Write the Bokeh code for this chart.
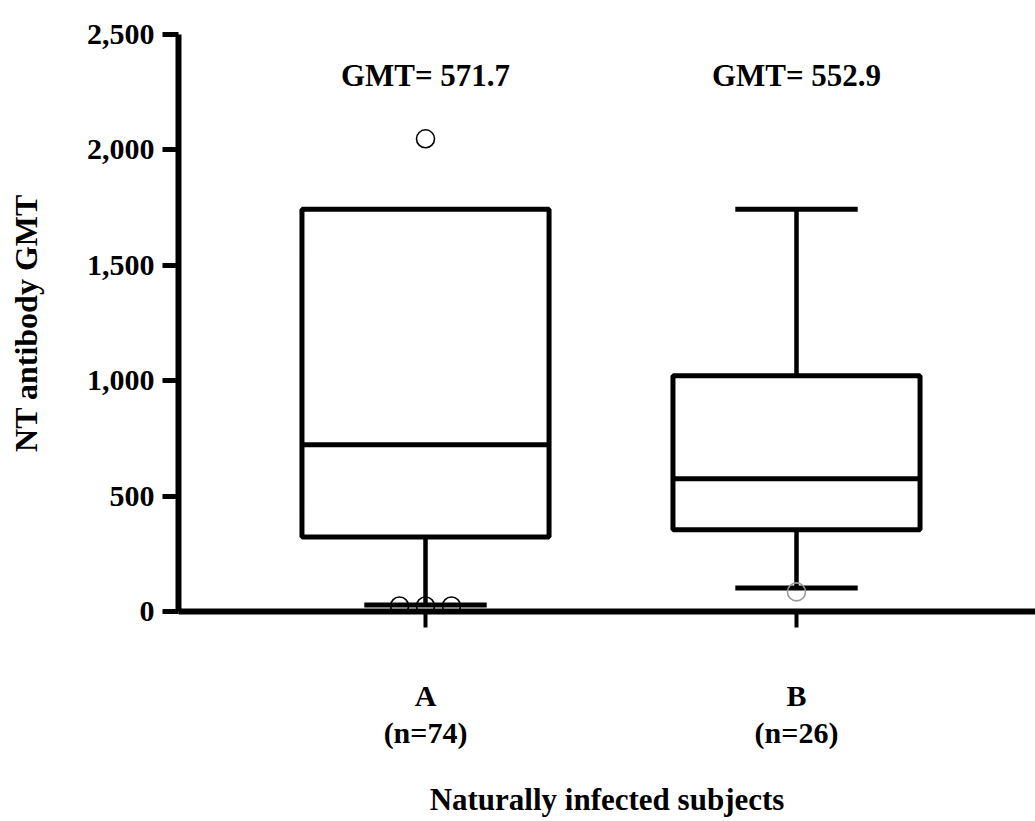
from bokeh.plotting import figure
from bokeh.models import Range1d, FixedTicker, NumeralTickFormatter, ColumnDataSource
from bokeh.core.properties import value
from bokeh.embed import file_html
from bokeh.resources import INLINE

# ---- data ----
groups = ["A", "B"]
group_pos = [1, 2]
n_subjects = [74, 26]
gmt = [571.7, 552.9]
q1 = [323, 354]
median = [723, 575]
q3 = [1743, 1021]
whisker_low = [28, 102]
whisker_high = [1743, 1743]
outlier_group = [1, 1, 1, 1, 2]
outlier_value = [2048, 24, 24, 24, 85]
outlier_jitter = [0.0, -0.07, 0.0, 0.07, 0.0]
outlier_color = ["black", "black", "black", "black", "#9a9a9a"]
y_ticks = [0, 500, 1000, 1500, 2000, 2500]

FONT = "Liberation Serif"
box_half = 0.333
cap_half = 0.165

p = figure(width=1035, height=821, x_range=Range1d(0.3342, 2.6442), y_range=Range1d(0, 2500),
           output_backend="svg", toolbar_location=None,
           min_border_left=178, min_border_right=0, min_border_top=34, min_border_bottom=210)
p.outline_line_color = None
p.xgrid.visible = False
p.ygrid.visible = False
p.background_fill_color = "white"
p.border_fill_color = "white"

# y axis
ya = p.yaxis[0]
ya.ticker = FixedTicker(ticks=y_ticks)
ya.formatter = NumeralTickFormatter(format="0,0")
ya.axis_line_width = 6
ya.axis_line_color = "black"
ya.major_tick_out = 16
ya.major_tick_in = 0
ya.major_tick_line_width = 5
ya.minor_tick_line_color = None
ya.major_label_text_font = FONT
ya.major_label_text_font_style = "bold"
ya.major_label_text_font_size = "30px"
ya.major_label_text_color = "black"
ya.major_label_standoff = 8
ya.axis_label = "NT antibody GMT"
ya.axis_label_text_font = FONT
ya.axis_label_text_font_style = "bold"
ya.axis_label_text_font_size = "32px"
ya.axis_label_text_color = "black"
ya.axis_label_standoff = 40

# x axis
xa = p.xaxis[0]
xa.ticker = FixedTicker(ticks=group_pos)
xa.major_label_overrides = {pos: f"{g}\n(n={n})" for pos, g, n in zip(group_pos, groups, n_subjects)}
xa.axis_line_width = 6
xa.axis_line_color = "black"
xa.major_tick_out = 16
xa.major_tick_in = 0
xa.major_tick_line_width = 4
xa.minor_tick_line_color = None
xa.major_label_text_font = FONT
xa.major_label_text_font_style = "bold"
xa.major_label_text_font_size = "30px"
xa.major_label_text_line_height = 1.15
xa.major_label_text_color = "black"
xa.major_label_standoff = 51
xa.axis_label = "Naturally infected subjects"
xa.axis_label_text_font = FONT
xa.axis_label_text_font_style = "bold"
xa.axis_label_text_font_size = "31px"
xa.axis_label_text_line_height = 1.0
xa.axis_label_text_color = "black"
xa.axis_label_standoff = 30

src = ColumnDataSource(dict(
    x=group_pos,
    left=[g - box_half for g in group_pos],
    right=[g + box_half for g in group_pos],
    q1=q1, med=median, q3=q3, lo=whisker_low, hi=whisker_high,
))

# whiskers
p.segment(x0="x", y0="lo", x1="x", y1="q1", source=src, line_color="black", line_width=4.5)
p.segment(x0="x", y0="q3", x1="x", y1="hi", source=src, line_color="black", line_width=4.5)
# caps (only where whisker extends beyond box)
cap_lo = ColumnDataSource(dict(x0=[g - cap_half for g, l, a in zip(group_pos, whisker_low, q1) if l < a],
                               x1=[g + cap_half for g, l, a in zip(group_pos, whisker_low, q1) if l < a],
                               y=[l for l, a in zip(whisker_low, q1) if l < a]))
cap_hi = ColumnDataSource(dict(x0=[g - cap_half for g, h, b in zip(group_pos, whisker_high, q3) if h > b],
                               x1=[g + cap_half for g, h, b in zip(group_pos, whisker_high, q3) if h > b],
                               y=[h for h, b in zip(whisker_high, q3) if h > b]))
p.segment(x0="x0", y0="y", x1="x1", y1="y", source=cap_lo, line_color="black", line_width=5)
p.segment(x0="x0", y0="y", x1="x1", y1="y", source=cap_hi, line_color="black", line_width=5)

# boxes
p.quad(left="left", right="right", bottom="q1", top="q3", source=src,
       fill_color="white", line_color="black", line_width=5)
p.segment(x0="left", y0="med", x1="right", y1="med", source=src, line_color="black", line_width=5)

# outliers
osrc = ColumnDataSource(dict(x=[g + j for g, j in zip(outlier_group, outlier_jitter)],
                             y=outlier_value, c=outlier_color))
p.scatter(x="x", y="y", source=osrc, marker="circle", size=18, fill_alpha=0,
          line_color="c", line_width=1.6)

# GMT annotations
tsrc = ColumnDataSource(dict(x=group_pos, y=[2322] * len(group_pos),
                             t=[f"GMT= {v}" for v in gmt]))
p.text(x="x", y="y", text="t", source=tsrc, text_font=value(FONT), text_font_style="bold",
       text_font_size="31px", text_align="center", text_baseline="middle", text_color="black")

open("out.html", "w").write(file_html(p, INLINE))
